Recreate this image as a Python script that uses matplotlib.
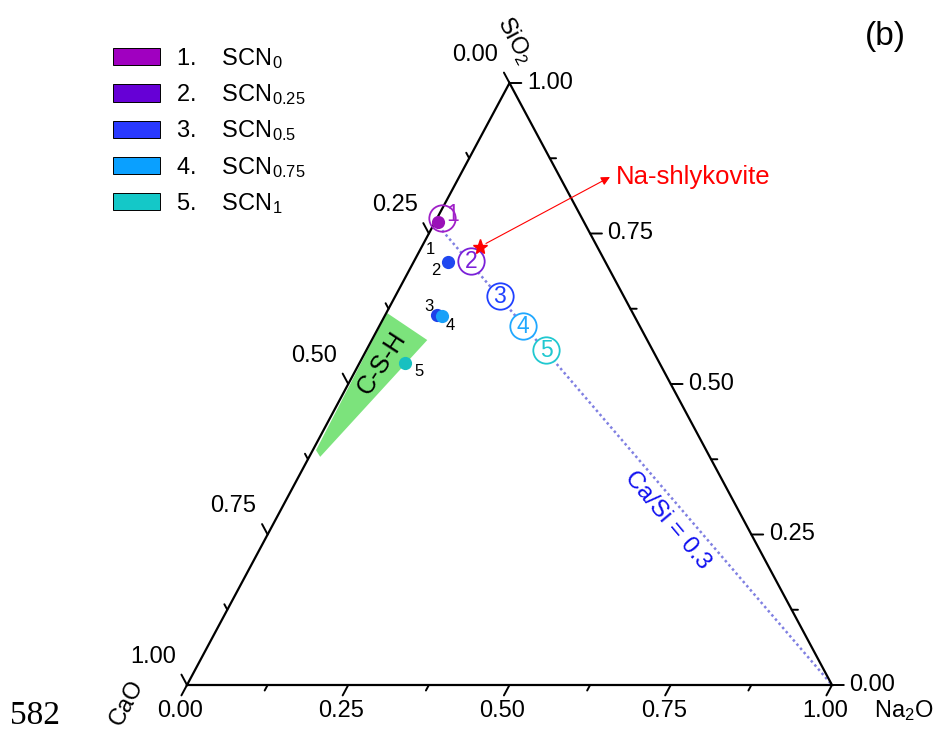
import matplotlib
matplotlib.use('Agg')
import matplotlib.pyplot as plt
from matplotlib.patches import Patch, Polygon
import numpy as np

plt.rcParams['font.family'] = ['Liberation Sans', 'DejaVu Sans']
plt.rcParams['mathtext.fontset'] = 'custom'
plt.rcParams['mathtext.rm'] = 'Liberation Sans'
plt.rcParams['mathtext.it'] = 'Liberation Sans:italic'

# ---- data (fractions: Na2O, SiO2; CaO = rest) ----
sample_names = ['SCN$_0$', 'SCN$_{0.25}$', 'SCN$_{0.5}$', 'SCN$_{0.75}$', 'SCN$_1$']
sample_colors = ['#A000C0', '#6600D6', '#2A3AFF', '#0AA0FF', '#14C8C8']

# measured compositions (filled dots)
meas_na = [0.005, 0.053, 0.080, 0.089, 0.070]
meas_si = [0.769, 0.703, 0.615, 0.613, 0.535]
meas_colors = ['#9A10B8', '#2048F0', '#2040E8', '#1AA0F8', '#18C0C0']
meas_labels = ['1', '2', '3', '4', '5']

# nominal compositions on Ca/Si = 0.3 (circled numbers)
nom_na = [0.007, 0.088, 0.162, 0.223, 0.279]
nom_si = [0.776, 0.704, 0.646, 0.596, 0.556]
nom_colors = ['#A020C8', '#7A20D8', '#2040FF', '#20A8FF', '#20C8D0']

# Ca/Si = 0.3 line
line_na = [0.0, 1.0]
line_si = [0.769, 0.0]

# C-S-H region
csh_na = [0.001, 0.086, 0.017, 0.005]
csh_si = [0.618, 0.573, 0.379, 0.390]

# Na-shlykovite
star_na = 0.090
star_si = 0.728

ticks = [0.0, 0.25, 0.5, 0.75, 1.0]
minor = [0.125, 0.375, 0.625, 0.875]
H = np.sqrt(3) / 2


def cart(na, si):
    na = np.asarray(na, dtype=float)
    si = np.asarray(si, dtype=float)
    return na + si / 2, si * H


fig = plt.figure(figsize=(9.34, 7.33), dpi=100)
ax = fig.add_axes([187 / 934, 1 - 685 / 733, 645 / 934, 602 / 733])
ax.set_xlim(0, 1)
ax.set_ylim(0, H)
ax.axis('off')

# triangle frame
tx, ty = cart([0, 1, 0, 0], [0, 0, 1, 0])
ax.plot(tx, ty, color='black', lw=1.6, solid_joinstyle='miter', clip_on=False, zorder=3)


def tick(x, y, dx, dy, L):
    ax.annotate('', xy=(x, y), xytext=(dx * L, dy * L), textcoords='offset points',
                arrowprops=dict(arrowstyle='-', lw=1.4, color='black', shrinkA=0, shrinkB=0),
                annotation_clip=False)


FS = 17

# bottom axis (Na2O), ticks down-left
for t in ticks + minor:
    x, y = cart(t, 0)
    tick(x, y, -0.473, -0.881, 8.5 if t in ticks else 4.5)
for t in ticks:
    x, y = cart(t, 0)
    ax.annotate(f'{t:.2f}', (x, y), xytext=(-5, -18.5), textcoords='offset points',
                ha='center', va='center', fontsize=FS)

# left axis (CaO), ticks up-left
for t in ticks + minor:
    x, y = cart(0, 1 - t)
    tick(x, y, -0.472, 0.882, 8.5 if t in ticks else 4.5)
for t in ticks:
    x, y = cart(0, 1 - t)
    ax.annotate(f'{t:.2f}', (x, y), xytext=(-24.5, 20.5), textcoords='offset points',
                ha='center', va='center', fontsize=FS)

# right axis (SiO2), ticks to the right
for t in ticks + minor:
    x, y = cart(1 - t, t)
    tick(x, y, 1, 0, 8.5 if t in ticks else 4.5)
for t in ticks:
    x, y = cart(1 - t, t)
    ax.annotate(f'{t:.2f}', (x, y), xytext=(12.5, 0), textcoords='offset points',
                ha='left', va='center', fontsize=FS)

# axis titles
ax.annotate('SiO$_2$', cart(0, 1), xytext=(3.5, 31), textcoords='offset points',
            ha='center', va='center', fontsize=FS, rotation=-62)
ax.annotate('CaO', cart(0, 0), xytext=(-43, -13), textcoords='offset points',
            ha='center', va='center', fontsize=FS, rotation=62)
ax.annotate('Na$_2$O', cart(1, 0), xytext=(52, -18.5), textcoords='offset points',
            ha='center', va='center', fontsize=FS)

# C-S-H region
px, py = cart(csh_na, csh_si)
ax.add_patch(Polygon(np.column_stack([px, py]), closed=True, facecolor='#6EE06E',
                     edgecolor='none', alpha=0.9, zorder=2))
cx, cy = cart(0.035, 0.535)
ax.text(cx, cy, 'C-S-H', fontsize=18, rotation=57, ha='center', va='center', zorder=4)

# Ca/Si = 0.3 line
lx, ly = cart(line_na, line_si)
ax.plot(lx, ly, color='#8080E2', lw=1.8, ls=(0, (1, 1.2)), zorder=2)
tx0, ty0 = cart(0.607, 0.274)
ax.text(tx0, ty0, 'Ca/Si = 0.3', color='#1010F0', fontsize=17.5, rotation=-50,
        ha='center', va='center')

# nominal circled points
nx, ny = cart(nom_na, nom_si)
for i in range(len(nom_na)):
    ax.plot(nx[i], ny[i], 'o', ms=19, mfc='white' if i > 0 else 'none',
            mec=nom_colors[i], mew=1.3, zorder=5)
    if i == 0:
        ax.annotate('1', (nx[i], ny[i]), xytext=(8, 2.5), textcoords='offset points',
                    ha='center', va='center', color=nom_colors[i], fontsize=16.5, zorder=6)
    else:
        ax.text(nx[i], ny[i], str(i + 1), ha='center', va='center',
                color=nom_colors[i], fontsize=16.5, zorder=6)

# measured dots
mx, my = cart(meas_na, meas_si)
label_off = [(-6, -20), (-9, -6), (-6, 6), (6, -7), (10, -6)]
for i in range(len(meas_na)):
    ax.plot(mx[i], my[i], 'o', ms=9.5, color=meas_colors[i], mec='none', zorder=4)
    ax.annotate(meas_labels[i], (mx[i], my[i]), xytext=label_off[i], textcoords='offset points',
                ha='center', va='center', fontsize=12)

# Na-shlykovite
sx, sy = cart(star_na, star_si)
ax.plot(sx, sy, '*', color='red', ms=11, zorder=7)
tipx, tipy = (610 - 187) / 645, (685 - 177) / 602 * H
ax.annotate('', xy=(tipx, tipy), xytext=(sx, sy),
            arrowprops=dict(arrowstyle='-|>', color='red', lw=0.8, shrinkA=5, shrinkB=0,
                            mutation_scale=13))
ax.annotate('Na-shlykovite', (tipx, tipy), xytext=(4, 0), textcoords='offset points',
            color='red', fontsize=18.5, ha='left', va='center')

# legend
handles = [Patch(facecolor=c, edgecolor='black', lw=0.7) for c in sample_colors]
labels = [f'{i + 1}.    {n}' for i, n in enumerate(sample_names)]
fig.legend(handles, labels, loc='upper left', bbox_to_anchor=(113 / 934, 1 - 46 / 733),
           frameon=False, fontsize=17, handlelength=2.0, handleheight=0.75,
           labelspacing=0.48, handletextpad=0.65, borderpad=0, borderaxespad=0)

fig.text(885 / 934, 1 - 37 / 733, '(b)', fontsize=24, ha='center', va='center')
fig.text(35 / 934, 1 - 716 / 733, '582', fontsize=24, ha='center', va='center',
         family='Liberation Serif')

fig.savefig('out.png', dpi=100)
